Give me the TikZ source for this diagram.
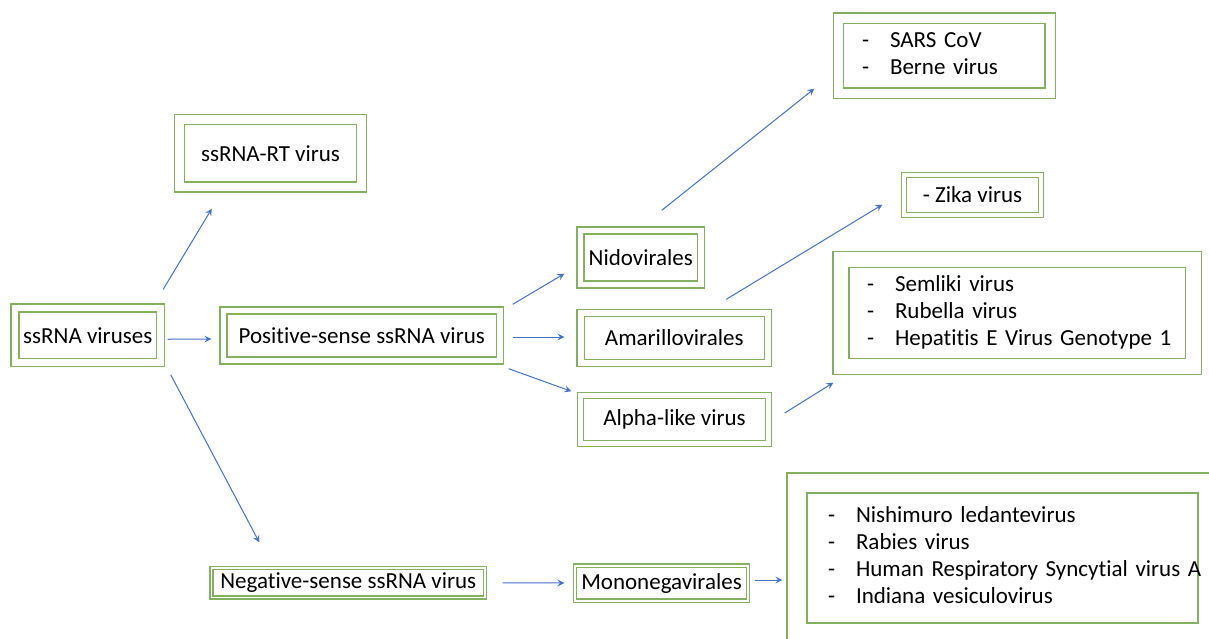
\documentclass[tikz,border=0pt]{standalone}
\usepackage{fontspec}
\setmainfont{Carlito}[Ligatures=CommonOff]
\usepackage{tikz}
\usetikzlibrary{arrows,calc}

\definecolor{vgreen}{RGB}{132,176,96}
\definecolor{vblue}{RGB}{68,114,196}
\newcommand{\dashlist}[1]{\begin{tabular}{@{}p{14pt}@{}l@{}}#1\end{tabular}}

\begin{document}
\begin{tikzpicture}
  [x=0.5pt,y=-0.5pt,every node/.style={font=\fontsize{11.5}{13.5}\selectfont}]

  \tikzstyle{vbox} = [draw=vgreen, line width=0.7pt, double=white, inner sep=0pt, align=center]
  \tikzstyle{vlist} = [vbox, align=left]
  \tikzstyle{link} = [->, >=stealth, draw=vblue, line width=0.5pt]

  \clip (0,0) rectangle (1209,638);
  \fill[white] (0,0) rectangle (1209,638);

  \node[vbox, double distance=3.3pt, minimum width=72.75pt, minimum height=27.25pt] (ss)    at (87.75,335.25) {ssRNA viruses};
  \node[vbox, double distance=4.3pt, minimum width=91pt,    minimum height=33.75pt] (rt)    at (270.5,153.25) {ssRNA-RT virus};
  \node[vbox, double distance=2.8pt, minimum width=138.25pt,minimum height=25pt]    (pos)   at (361.75,335.5) {Positive-sense ssRNA virus};
  \node[vbox, double distance=0.8pt, minimum width=136.75pt,minimum height=14.75pt] (neg)   at (348.25,582.75) {Negative-sense ssRNA virus};
  \node[vbox, double distance=2.8pt, minimum width=60.25pt, minimum height=27pt]    (nido)  at (640.75,257.5) {Nidovirales};
  \node[vbox, double distance=3pt,   minimum width=93.75pt, minimum height=25pt]    (amar)  at (674.25,338) {Amarillovirales};
  \node[vbox, double distance=2.3pt, minimum width=94pt,    minimum height=24pt]    (alpha) at (674.5,419.5) {Alpha-like virus};
  \node[vbox, double distance=1pt,   minimum width=86.5pt,  minimum height=17.5pt]  (mono)  at (661.5,583) {Mononegavirales};
  \node[vbox, double distance=1.8pt, minimum width=68.5pt,  minimum height=20pt]    (zika)  at (972.5,195) {- Zika virus};

  \node[vlist, double distance=4.5pt, minimum width=105.75pt, minimum height=37.5pt, text width=82.25pt] (sars) at (944.25,55.5)
    {\dashlist{- & SARS CoV\\ - & Berne virus}};
  \node[vlist, double distance=7.3pt, minimum width=176.25pt, minimum height=53.5pt, text width=150.25pt] (sem) at (1017.25,313)
    {\dashlist{- & Semliki virus\\ - & Rubella virus\\ - & Hepatitis E Virus Genotype 1}};
  \node[vlist, double distance=9.3pt, minimum width=205.5pt, minimum height=75pt, text width=174.5pt] (list) at (1002.5,558)
    {\dashlist{- & Nishimuro ledantevirus\\ - & Rabies virus\\ - & Human Respiratory Syncytial virus A\\ - & Indiana vesiculovirus}};

  % arrows
  \draw[link] ($(ss.north east)+(2,-18)$) -- ($(rt.south west)+(33,21)$);
  \draw[link] ($(ss.east)+(6.5,4)$) -- ($(pos.west)+(-11.5,3.5)$);
  \draw[link] ($(ss.south east)+(9.5,11.5)$) -- ($(neg.north west)+(48.5,-25)$);
  \draw[link] ($(pos.north east)+(12,-5.5)$) -- ($(nido.south west)+(-15.5,-11.5)$);
  \draw[link] ($(pos.east)+(12,1.5)$) -- ($(amar.west)+(-15.5,-1)$);
  \draw[link] ($(pos.south east)+(8,7.5)$) -- ($(alpha.north west)+(-8.5,-3.5)$);
  \draw[link] ($(nido.north)+(21,-19.5)$) -- ($(sars.south west)+(-23.5,-5)$);
  \draw[link] ($(amar.north)+(52,-13)$) -- ($(zika.south west)+(-21,-11)$);
  \draw[link] ($(alpha.east)+(15.5,-6.5)$) -- ($(sem.south west)+(-7,15.5)$);
  \draw[link] ($(neg.east)+(17,0)$) -- ($(mono.west)+(-10,0)$);
  \draw[link] ($(mono.east)+(6,-3)$) -- ($(list.west)+(-14,22)$);
\end{tikzpicture}
\end{document}
